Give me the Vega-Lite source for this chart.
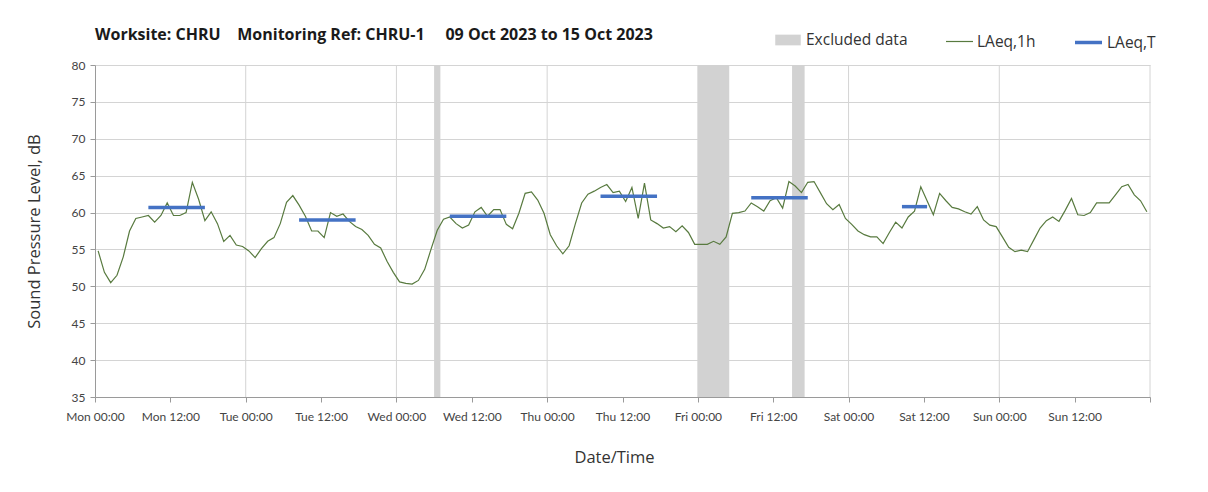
{
  "$schema": "https://vega.github.io/schema/vega-lite/v6.json",
  "width": 1055,
  "height": 332,
  "autosize": {"type": "none"},
  "padding": {"left": 95, "top": 65, "right": 58, "bottom": 95},
  "background": "white",
  "title": {
    "text": "Worksite: CHRU\u00a0\u00a0\u00a0\u00a0Monitoring Ref: CHRU-1\u00a0\u00a0\u00a0\u00a0\u00a009 Oct 2023 to 15 Oct 2023",
    "anchor": "start",
    "frame": "group",
    "font": "Open Sans",
    "fontSize": 16,
    "fontWeight": "bold",
    "color": "#1a1a1a",
    "offset": 18,
    "dy": 34
  },
  "config": {
    "view": {"stroke": null},
    "axis": {
      "labelFont": "Lato",
      "labelFontSize": 12,
      "labelColor": "#444444",
      "titleFont": "Open Sans",
      "titleFontSize": 16.5,
      "titleFontWeight": "normal",
      "titleColor": "#333333",
      "domainColor": "#9a9a9a",
      "tickColor": "#9a9a9a",
      "gridColor": "#d4d4d4",
      "tickSize": 5,
      "labelOverlap": false
    },
    "legend": {
      "labelFont": "Open Sans",
      "labelFontSize": 15.5,
      "labelColor": "#333333",
      "padding": 0
    }
  },
  "datasets": {
    "days": [
      {"d":"2023-10-10T00:00"},{"d":"2023-10-11T00:00"},{"d":"2023-10-12T00:00"},{"d":"2023-10-13T00:00"},
      {"d":"2023-10-14T00:00"},{"d":"2023-10-15T00:00"},{"d":"2023-10-16T00:00"}
    ],
    "hourly": [
      {"t":"2023-10-09T00:30","v":54.8},{"t":"2023-10-09T01:30","v":51.9},{"t":"2023-10-09T02:30","v":50.5},{"t":"2023-10-09T03:30","v":51.5},
      {"t":"2023-10-09T04:30","v":54.0},{"t":"2023-10-09T05:30","v":57.5},{"t":"2023-10-09T06:30","v":59.2},{"t":"2023-10-09T07:30","v":59.4},
      {"t":"2023-10-09T08:30","v":59.6},{"t":"2023-10-09T09:30","v":58.7},{"t":"2023-10-09T10:30","v":59.6},{"t":"2023-10-09T11:30","v":61.3},
      {"t":"2023-10-09T12:30","v":59.6},{"t":"2023-10-09T13:30","v":59.6},{"t":"2023-10-09T14:30","v":60.0},{"t":"2023-10-09T15:30","v":64.1},
      {"t":"2023-10-09T16:30","v":61.8},{"t":"2023-10-09T17:30","v":58.9},{"t":"2023-10-09T18:30","v":60.1},{"t":"2023-10-09T19:30","v":58.5},
      {"t":"2023-10-09T20:30","v":56.1},{"t":"2023-10-09T21:30","v":56.9},{"t":"2023-10-09T22:30","v":55.6},{"t":"2023-10-09T23:30","v":55.4},
      {"t":"2023-10-10T00:30","v":54.8},{"t":"2023-10-10T01:30","v":53.9},{"t":"2023-10-10T02:30","v":55.1},{"t":"2023-10-10T03:30","v":56.1},
      {"t":"2023-10-10T04:30","v":56.6},{"t":"2023-10-10T05:30","v":58.5},{"t":"2023-10-10T06:30","v":61.4},{"t":"2023-10-10T07:30","v":62.3},
      {"t":"2023-10-10T08:30","v":61.0},{"t":"2023-10-10T09:30","v":59.5},{"t":"2023-10-10T10:30","v":57.5},{"t":"2023-10-10T11:30","v":57.5},
      {"t":"2023-10-10T12:30","v":56.6},{"t":"2023-10-10T13:30","v":60.0},{"t":"2023-10-10T14:30","v":59.5},{"t":"2023-10-10T15:30","v":59.8},
      {"t":"2023-10-10T16:30","v":58.8},{"t":"2023-10-10T17:30","v":58.1},{"t":"2023-10-10T18:30","v":57.7},{"t":"2023-10-10T19:30","v":56.9},
      {"t":"2023-10-10T20:30","v":55.7},{"t":"2023-10-10T21:30","v":55.2},{"t":"2023-10-10T22:30","v":53.4},{"t":"2023-10-10T23:30","v":51.9},
      {"t":"2023-10-11T00:30","v":50.6},{"t":"2023-10-11T01:30","v":50.4},{"t":"2023-10-11T02:30","v":50.3},{"t":"2023-10-11T03:30","v":50.8},
      {"t":"2023-10-11T04:30","v":52.3},{"t":"2023-10-11T05:30","v":55.0},{"t":"2023-10-11T06:30","v":57.6},{"t":"2023-10-11T07:30","v":59.1},
      {"t":"2023-10-11T08:30","v":59.4},{"t":"2023-10-11T09:30","v":58.5},{"t":"2023-10-11T10:30","v":57.9},{"t":"2023-10-11T11:30","v":58.3},
      {"t":"2023-10-11T12:30","v":60.1},{"t":"2023-10-11T13:30","v":60.7},{"t":"2023-10-11T14:30","v":59.5},{"t":"2023-10-11T15:30","v":60.4},
      {"t":"2023-10-11T16:30","v":60.4},{"t":"2023-10-11T17:30","v":58.4},{"t":"2023-10-11T18:30","v":57.8},{"t":"2023-10-11T19:30","v":59.9},
      {"t":"2023-10-11T20:30","v":62.6},{"t":"2023-10-11T21:30","v":62.8},{"t":"2023-10-11T22:30","v":61.7},{"t":"2023-10-11T23:30","v":59.9},
      {"t":"2023-10-12T00:30","v":57.0},{"t":"2023-10-12T01:30","v":55.5},{"t":"2023-10-12T02:30","v":54.4},{"t":"2023-10-12T03:30","v":55.5},
      {"t":"2023-10-12T04:30","v":58.5},{"t":"2023-10-12T05:30","v":61.3},{"t":"2023-10-12T06:30","v":62.5},{"t":"2023-10-12T07:30","v":62.9},
      {"t":"2023-10-12T08:30","v":63.4},{"t":"2023-10-12T09:30","v":63.8},{"t":"2023-10-12T10:30","v":62.7},{"t":"2023-10-12T11:30","v":62.9},
      {"t":"2023-10-12T12:30","v":61.5},{"t":"2023-10-12T13:30","v":63.4},{"t":"2023-10-12T14:30","v":59.2},{"t":"2023-10-12T15:30","v":64.0},
      {"t":"2023-10-12T16:30","v":59.0},{"t":"2023-10-12T17:30","v":58.5},{"t":"2023-10-12T18:30","v":57.9},{"t":"2023-10-12T19:30","v":58.1},
      {"t":"2023-10-12T20:30","v":57.4},{"t":"2023-10-12T21:30","v":58.2},{"t":"2023-10-12T22:30","v":57.3},{"t":"2023-10-12T23:30","v":55.7},
      {"t":"2023-10-13T00:30","v":55.7},{"t":"2023-10-13T01:30","v":55.7},{"t":"2023-10-13T02:30","v":56.1},{"t":"2023-10-13T03:30","v":55.7},
      {"t":"2023-10-13T04:30","v":56.7},{"t":"2023-10-13T05:30","v":59.9},{"t":"2023-10-13T06:30","v":60.0},{"t":"2023-10-13T07:30","v":60.2},
      {"t":"2023-10-13T08:30","v":61.3},{"t":"2023-10-13T09:30","v":60.8},{"t":"2023-10-13T10:30","v":60.2},{"t":"2023-10-13T11:30","v":61.6},
      {"t":"2023-10-13T12:30","v":62.0},{"t":"2023-10-13T13:30","v":60.6},{"t":"2023-10-13T14:30","v":64.2},{"t":"2023-10-13T15:30","v":63.6},
      {"t":"2023-10-13T16:30","v":62.7},{"t":"2023-10-13T17:30","v":64.1},{"t":"2023-10-13T18:30","v":64.2},{"t":"2023-10-13T19:30","v":62.7},
      {"t":"2023-10-13T20:30","v":61.2},{"t":"2023-10-13T21:30","v":60.4},{"t":"2023-10-13T22:30","v":61.1},{"t":"2023-10-13T23:30","v":59.2},
      {"t":"2023-10-14T00:30","v":58.4},{"t":"2023-10-14T01:30","v":57.5},{"t":"2023-10-14T02:30","v":57.0},{"t":"2023-10-14T03:30","v":56.7},
      {"t":"2023-10-14T04:30","v":56.7},{"t":"2023-10-14T05:30","v":55.8},{"t":"2023-10-14T06:30","v":57.3},{"t":"2023-10-14T07:30","v":58.7},
      {"t":"2023-10-14T08:30","v":57.9},{"t":"2023-10-14T09:30","v":59.4},{"t":"2023-10-14T10:30","v":60.2},{"t":"2023-10-14T11:30","v":63.5},
      {"t":"2023-10-14T12:30","v":61.6},{"t":"2023-10-14T13:30","v":59.7},{"t":"2023-10-14T14:30","v":62.6},{"t":"2023-10-14T15:30","v":61.6},
      {"t":"2023-10-14T16:30","v":60.7},{"t":"2023-10-14T17:30","v":60.5},{"t":"2023-10-14T18:30","v":60.1},{"t":"2023-10-14T19:30","v":59.8},
      {"t":"2023-10-14T20:30","v":60.8},{"t":"2023-10-14T21:30","v":59.0},{"t":"2023-10-14T22:30","v":58.3},{"t":"2023-10-14T23:30","v":58.1},
      {"t":"2023-10-15T00:30","v":56.7},{"t":"2023-10-15T01:30","v":55.3},{"t":"2023-10-15T02:30","v":54.7},{"t":"2023-10-15T03:30","v":54.9},
      {"t":"2023-10-15T04:30","v":54.7},{"t":"2023-10-15T05:30","v":56.3},{"t":"2023-10-15T06:30","v":57.9},{"t":"2023-10-15T07:30","v":58.9},
      {"t":"2023-10-15T08:30","v":59.4},{"t":"2023-10-15T09:30","v":58.8},{"t":"2023-10-15T10:30","v":60.3},{"t":"2023-10-15T11:30","v":61.9},
      {"t":"2023-10-15T12:30","v":59.7},{"t":"2023-10-15T13:30","v":59.6},{"t":"2023-10-15T14:30","v":60.0},{"t":"2023-10-15T15:30","v":61.3},
      {"t":"2023-10-15T16:30","v":61.3},{"t":"2023-10-15T17:30","v":61.3},{"t":"2023-10-15T18:30","v":62.4},{"t":"2023-10-15T19:30","v":63.5},
      {"t":"2023-10-15T20:30","v":63.8},{"t":"2023-10-15T21:30","v":62.4},{"t":"2023-10-15T22:30","v":61.6},{"t":"2023-10-15T23:30","v":60.1}
    ],
    "periods": [
      {"start":"2023-10-09T08:30","end":"2023-10-09T17:30","level":60.7},
      {"start":"2023-10-10T08:30","end":"2023-10-10T17:30","level":59.0},
      {"start":"2023-10-11T08:30","end":"2023-10-11T17:30","level":59.5},
      {"start":"2023-10-12T08:30","end":"2023-10-12T17:30","level":62.2},
      {"start":"2023-10-13T08:30","end":"2023-10-13T17:30","level":62.0},
      {"start":"2023-10-14T08:30","end":"2023-10-14T12:30","level":60.8}
    ],
    "excluded": [
      {"start":"2023-10-11T06:00","end":"2023-10-11T07:00"},
      {"start":"2023-10-13T00:00","end":"2023-10-13T05:00"},
      {"start":"2023-10-13T15:00","end":"2023-10-13T17:00"}
    ]
  },
  "layer": [
    {
      "data": {"name": "days"},
      "mark": {"type": "rule", "color": "#d4d4d4", "strokeWidth": 1},
      "encoding": {
        "x": {
          "field": "d", "type": "temporal", "title": "Date/Time",
          "scale": {"domain": [{"year": 2023, "month": 10, "date": 9, "hours": 0}, {"year": 2023, "month": 10, "date": 16, "hours": 0}], "nice": false},
          "axis": {
            "values": [
              {"year": 2023, "month": 10, "date": 9, "hours": 0}, {"year": 2023, "month": 10, "date": 9, "hours": 12},
              {"year": 2023, "month": 10, "date": 10, "hours": 0}, {"year": 2023, "month": 10, "date": 10, "hours": 12},
              {"year": 2023, "month": 10, "date": 11, "hours": 0}, {"year": 2023, "month": 10, "date": 11, "hours": 12},
              {"year": 2023, "month": 10, "date": 12, "hours": 0}, {"year": 2023, "month": 10, "date": 12, "hours": 12},
              {"year": 2023, "month": 10, "date": 13, "hours": 0}, {"year": 2023, "month": 10, "date": 13, "hours": 12},
              {"year": 2023, "month": 10, "date": 14, "hours": 0}, {"year": 2023, "month": 10, "date": 14, "hours": 12},
              {"year": 2023, "month": 10, "date": 15, "hours": 0}, {"year": 2023, "month": 10, "date": 15, "hours": 12},
              {"year": 2023, "month": 10, "date": 16, "hours": 0}
            ],
            "tickCount": 40,
            "format": "%a %H:%M",
            "labelExpr": "date(datum.value) == 16 ? '' : datum.label",
            "labelFlush": false,
            "labelPadding": 9,
            "titlePadding": 27,
            "titleX": 519,
            "grid": false
          }
        }
      }
    },
    {
      "data": {"name": "excluded"},
      "mark": {"type": "rect", "opacity": 1},
      "encoding": {
        "x": {"field": "start", "type": "temporal", "title": "Date/Time"},
        "x2": {"field": "end"},
        "fill": {
          "datum": "Excluded data", "type": "nominal",
          "scale": {"domain": ["Excluded data"], "range": ["#d2d2d2"]},
          "legend": {"title": null, "orient": "none", "legendX": 680, "legendY": -38, "symbolType": "M-1,-0.42H1V0.42H-1Z", "symbolSize": 650, "symbolStrokeWidth": 0, "symbolOpacity": 1, "labelOffset": 5}
        }
      }
    },
    {
      "data": {"name": "hourly"},
      "mark": {"type": "line", "strokeWidth": 1.2},
      "encoding": {
        "x": {"field": "t", "type": "temporal", "title": "Date/Time"},
        "y": {
          "field": "v", "type": "quantitative", "title": "Sound Pressure Level, dB",
          "scale": {"domain": [35, 80], "nice": false, "zero": false},
          "axis": {"values": [35, 40, 45, 50, 55, 60, 65, 70, 75, 80], "tickCount": 20, "labelPadding": 5, "titlePadding": 29, "grid": true}
        },
        "stroke": {
          "datum": "LAeq,1h", "type": "nominal",
          "scale": {"domain": ["LAeq,1h"], "range": ["#587a3f"]},
          "legend": {"title": null, "orient": "none", "legendX": 850, "legendY": -38, "symbolType": "stroke", "symbolSize": 729, "symbolStrokeWidth": 1.2, "labelOffset": 3}
        }
      }
    },
    {
      "data": {"name": "periods"},
      "mark": {"type": "rule", "strokeWidth": 3.5, "strokeCap": "butt"},
      "encoding": {
        "x": {"field": "start", "type": "temporal", "title": "Date/Time"},
        "x2": {"field": "end"},
        "y": {"field": "level", "type": "quantitative", "title": "Sound Pressure Level, dB"},
        "color": {
          "datum": "LAeq,T", "type": "nominal",
          "scale": {"domain": ["LAeq,T"], "range": ["#4472c4"]},
          "legend": {"title": null, "orient": "none", "legendX": 978, "legendY": -38, "symbolType": "stroke", "symbolSize": 729, "symbolStrokeWidth": 3.5, "labelOffset": 3}
        }
      }
    }
  ]
}
